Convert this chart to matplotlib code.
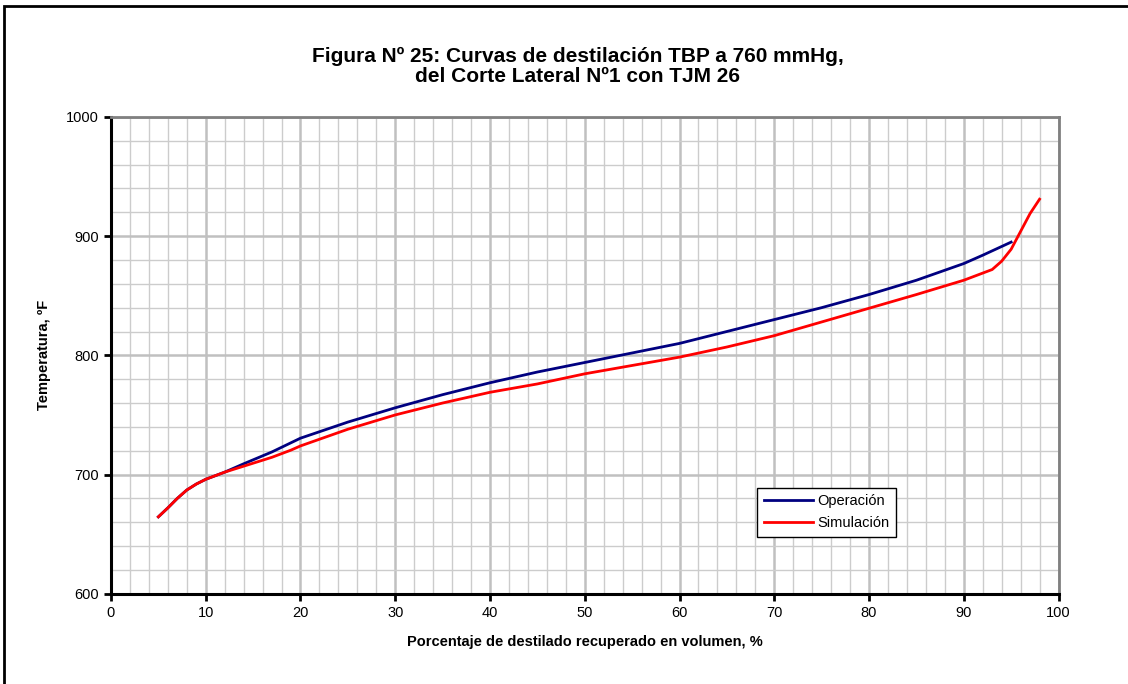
import numpy as np
import matplotlib.pyplot as plt
from matplotlib.patches import Rectangle
from matplotlib.ticker import MultipleLocator

plt.rcParams['font.family'] = ['Liberation Sans', 'DejaVu Sans']

# data
x_oper = [5, 6, 7, 8, 9, 10, 12, 14, 17, 20, 25, 30, 35, 40, 45, 50, 55, 60,
          65, 70, 75, 80, 85, 90, 92, 95]
t_oper = [664.5, 672, 680, 687, 692, 696, 702, 709, 719, 730.5, 744, 756, 767,
          777, 786, 794, 802, 810, 820, 830, 840, 851, 863, 877, 884, 895]

x_sim = [5, 6, 7, 8, 9, 10, 12, 14, 17, 19, 20, 25, 30, 35, 40, 45, 50, 55,
         60, 65, 70, 75, 80, 85, 90, 93, 94, 95, 96, 97, 98]
t_sim = [664.5, 672, 680, 687, 692, 696, 702, 707, 714.5, 720.5, 724, 738,
         750, 760, 769, 776, 784.5, 791.5, 798.5, 807, 816.5, 828, 839.5, 851,
         863, 872, 879, 889, 904, 919, 931]

title_str = 'Figura Nº 25: Curvas de destilación TBP a 760 mmHg,\ndel Corte Lateral Nº1 con TJM 26'

fig = plt.figure(figsize=(11.28, 6.84), dpi=100)
ax = fig.add_axes([0.0984, 0.132, 0.8400, 0.697])

ax.plot(x_oper, t_oper, color='#000080', lw=2, label='Operación', zorder=3)
ax.plot(x_sim, t_sim, color='#FF0000', lw=2, label='Simulación', zorder=4)

ax.set_xlim(0, 100)
ax.set_ylim(600, 1000)
ax.xaxis.set_major_locator(MultipleLocator(10))
ax.xaxis.set_minor_locator(MultipleLocator(2))
ax.yaxis.set_major_locator(MultipleLocator(100))
ax.yaxis.set_minor_locator(MultipleLocator(20))

ax.grid(which='minor', color='#cccccc', lw=1, zorder=0)
ax.grid(which='major', color='#c0c0c0', lw=1.8, zorder=0)
ax.set_axisbelow(True)

ax.tick_params(which='major', direction='out', length=5, width=2, labelsize=10.5,
               color='black')
ax.tick_params(which='minor', length=0)

for side in ['left', 'bottom']:
    ax.spines[side].set_color('black')
    ax.spines[side].set_linewidth(2.2)
for side in ['top', 'right']:
    ax.spines[side].set_color('#808080')
    ax.spines[side].set_linewidth(2)

ax.set_xlabel('Porcentaje de destilado recuperado en volumen, %',
              fontsize=10.5, fontweight='bold', labelpad=11)
ax.set_ylabel('Temperatura, ºF', fontsize=10.5, fontweight='bold', labelpad=11)

fig.text(0.512, 0.931, title_str, ha='center', va='top', fontsize=15,
         fontweight='bold', linespacing=1.05)

leg = ax.legend(loc='lower left', bbox_to_anchor=(0.682, 0.119), fontsize=10.5,
                fancybox=False, framealpha=1, edgecolor='black',
                handlelength=3.4, borderpad=0.45, labelspacing=0.55,
                handletextpad=0.3, borderaxespad=0)
leg.get_frame().set_linewidth(1)

# outer chart border (cut off at right and bottom edges)
fig.patches.append(Rectangle((4 / 1128, -0.1), 1.2, 0.1 + 1 - 6 / 684,
                             transform=fig.transFigure, fill=False,
                             edgecolor='black', lw=2))

fig.savefig('out.png', dpi=100)
